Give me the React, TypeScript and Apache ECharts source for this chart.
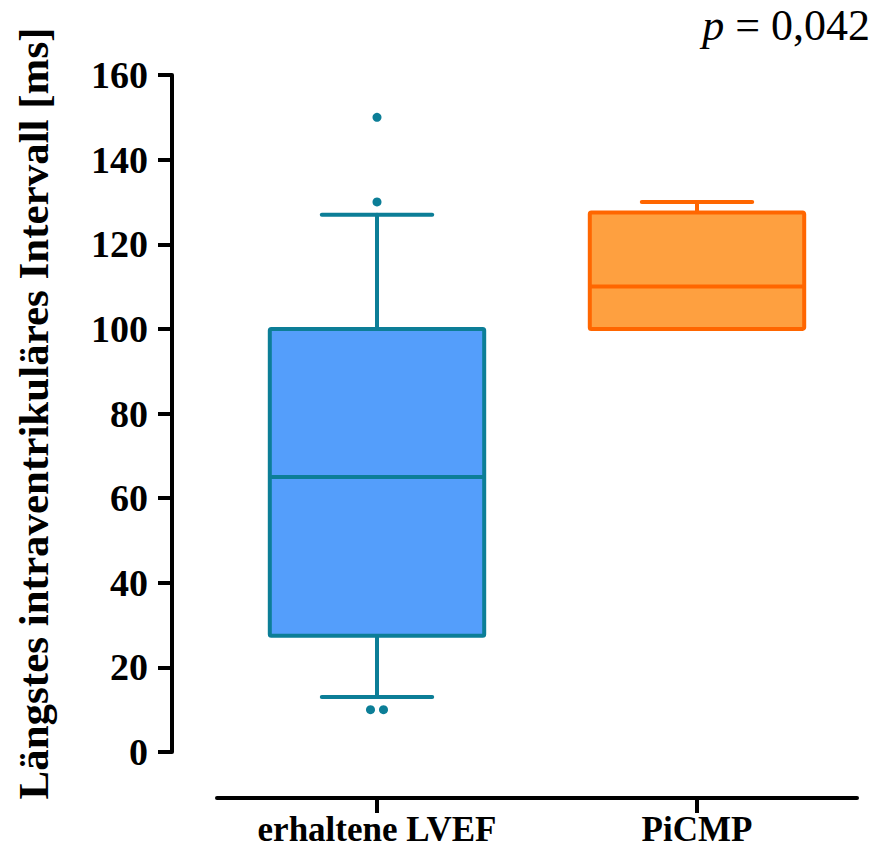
import React, { useEffect, useRef } from "react";
import * as echarts from "echarts";

// ---- data ----
const categories = ["erhaltene LVEF", "PiCMP"];
const whiskerLow = [13, 100];
const quartile1 = [27.5, 100];
const medians = [65, 110];
const quartile3 = [100, 127.5];
const whiskerHigh = [127, 130];
// outliers: [category index, value]
const outliers: [number, number][] = [
  [0, 150],
  [0, 130],
  [0, 10],
  [0, 10],
];
const yTicks = { min: 0, max: 160, interval: 20 };
const pText = "{i|p} = 0,042";

// ---- styles ----
const fillColors = ["#549efb", "#fea040"];
const strokeColors = ["#0c7e97", "#ff6600"];
const FONT = "'Liberation Serif', 'Times New Roman', serif";

export default function App() {
  const ref = useRef<HTMLDivElement>(null);

  useEffect(() => {
    if (!ref.current) return;
    const chart = echarts.init(ref.current, undefined, { renderer: "svg" });

    const boxData = categories.map((_, i) => [
      i,
      whiskerLow[i],
      quartile1[i],
      medians[i],
      quartile3[i],
      whiskerHigh[i],
    ]);

    // spread duplicate outliers horizontally
    const counts: Record<string, number> = {};
    outliers.forEach(([c, v]) => {
      const k = c + "_" + v;
      counts[k] = (counts[k] || 0) + 1;
    });
    const seen: Record<string, number> = {};
    const outlierData = outliers.map(([c, v]) => {
      const k = c + "_" + v;
      const n = counts[k];
      const j = seen[k] || 0;
      seen[k] = j + 1;
      const off = n > 1 ? (j - (n - 1) / 2) * 13 : 0;
      return {
        value: [c, v],
        symbolOffset: [off, 0],
        itemStyle: { color: strokeColors[c], opacity: 1 },
      };
    });

    const option: any = {
      animation: false,
      backgroundColor: "#ffffff",
      title: {
        text: pText,
        right: 5,
        top: 3,
        padding: 0,
        textStyle: {
          fontFamily: FONT,
          fontSize: 44,
          fontWeight: "normal",
          color: "#000",
          rich: {
            i: {
              fontFamily: FONT,
              fontSize: 44,
              fontStyle: "italic",
              color: "#000",
            },
          },
        },
      },
      grid: { left: 217, right: 18, top: 75, bottom: 97, containLabel: false },
      xAxis: {
        type: "category",
        data: categories,
        offset: 46,
        axisLine: { show: true, onZero: false, lineStyle: { color: "#000", width: 4 } },
        axisTick: {
          show: true,
          interval: 0,
          length: 15,
          lineStyle: { color: "#000", width: 4 },
          alignWithLabel: true,
        },
        axisLabel: {
          interval: 0,
          margin: 13,
          fontFamily: FONT,
          fontWeight: "bold",
          fontSize: 35,
          lineHeight: 36,
          color: "#000",
        },
        splitLine: { show: false },
      },
      yAxis: {
        type: "value",
        min: yTicks.min,
        max: yTicks.max,
        interval: yTicks.interval,
        offset: 45,
        name: "Längstes intraventrikuläres Intervall [ms]",
        nameLocation: "middle",
        nameGap: 117,
        nameTextStyle: {
          fontFamily: FONT,
          fontWeight: "bold",
          fontSize: 43,
          color: "#000",
        },
        axisLine: { show: true, lineStyle: { color: "#000", width: 4 } },
        axisTick: { show: true, length: 14, lineStyle: { color: "#000", width: 4 } },
        axisLabel: {
          margin: 24,
          fontFamily: FONT,
          fontWeight: "bold",
          fontSize: 38,
          color: "#000",
        },
        splitLine: { show: false },
      },
      series: [
        {
          type: "custom",
          data: boxData,
          encode: { x: 0, y: [1, 2, 3, 4, 5] },
          renderItem: (params: any, api: any) => {
            const idx = params.dataIndex;
            const c = api.value(0);
            const band = api.size([1, 0])[0];
            const bw = band * 0.67;
            const cw = band * 0.345;
            const pMin = api.coord([c, api.value(1)]);
            const pQ1 = api.coord([c, api.value(2)]);
            const pMed = api.coord([c, api.value(3)]);
            const pQ3 = api.coord([c, api.value(4)]);
            const pMax = api.coord([c, api.value(5)]);
            const cx = pMed[0];
            const stroke = strokeColors[idx];
            const fill = fillColors[idx];
            const lineStyle = { stroke, lineWidth: 4, lineCap: "round" };
            return {
              type: "group",
              children: [
                {
                  type: "line",
                  shape: { x1: cx, y1: pQ3[1], x2: cx, y2: pMax[1] },
                  style: lineStyle,
                },
                {
                  type: "line",
                  shape: { x1: cx - cw / 2, y1: pMax[1], x2: cx + cw / 2, y2: pMax[1] },
                  style: lineStyle,
                },
                {
                  type: "line",
                  shape: { x1: cx, y1: pQ1[1], x2: cx, y2: pMin[1] },
                  style: lineStyle,
                },
                {
                  type: "line",
                  shape: { x1: cx - cw / 2, y1: pMin[1], x2: cx + cw / 2, y2: pMin[1] },
                  style: lineStyle,
                },
                {
                  type: "rect",
                  shape: { x: cx - bw / 2, y: pQ3[1], width: bw, height: pQ1[1] - pQ3[1], r: 1.5 },
                  style: { fill, stroke, lineWidth: 4, lineJoin: "round" },
                },
                {
                  type: "line",
                  shape: { x1: cx - bw / 2, y1: pMed[1], x2: cx + bw / 2, y2: pMed[1] },
                  style: { stroke, lineWidth: 4 },
                },
              ],
            };
          },
          z: 2,
        },
        {
          type: "scatter",
          data: outlierData,
          symbol: "circle",
          symbolSize: 9,
          z: 3,
        },
      ],
    };

    chart.setOption(option);
    return () => chart.dispose();
  }, []);

  return (
    <div
      ref={ref}
      style={{ position: "fixed", left: 0, top: 0, width: 875, height: 849 }}
    />
  );
}
